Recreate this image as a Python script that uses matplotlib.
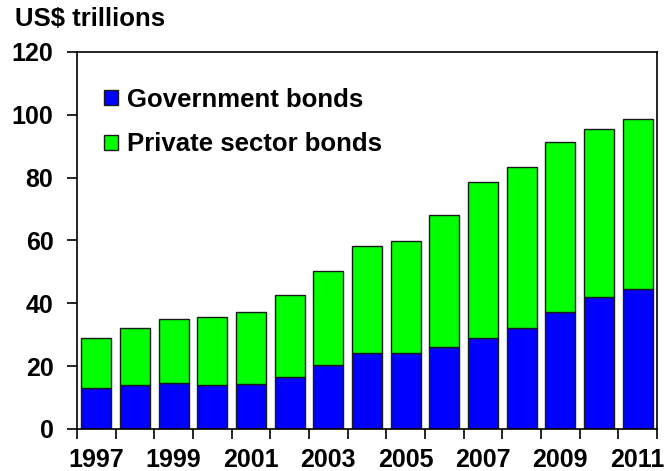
import matplotlib.pyplot as plt
import numpy as np

years = list(range(1997, 2012))
government = [13.1, 14.0, 14.6, 14.0, 14.2, 16.7, 20.3, 24.2, 24.1, 26.2, 29.1, 32.1, 37.2, 42.1, 44.6]
total = [28.9, 32.3, 34.9, 35.7, 37.3, 42.6, 50.3, 58.1, 59.7, 68.2, 78.6, 83.3, 91.2, 95.4, 98.8]
private = [t - g for t, g in zip(total, government)]

plt.rcParams['font.family'] = ['Liberation Sans', 'DejaVu Sans']
plt.rcParams['font.weight'] = 'bold'

fig = plt.figure(figsize=(6.72, 4.71), dpi=100)
ax = fig.add_axes([0.1146, 0.0892, 0.8631, 0.8004])

x = np.arange(len(years))
ax.bar(x, government, width=0.78, color='#0000ff', edgecolor='#1a1a1a', linewidth=1.0,
       label='Government bonds')
ax.bar(x, private, width=0.78, bottom=government, color='#00ff00', edgecolor='#1a1a1a',
       linewidth=1.0, label='Private sector bonds')

ax.set_xlim(-0.5, len(years) - 0.5)
ax.set_ylim(0, 120)
ax.set_yticks(range(0, 121, 20))
ax.tick_params(axis='y', labelsize=18, length=7, width=1.2, direction='out', pad=10)

# year labels under every other bar, ticks between bars
ax.set_xticks(x[::2])
ax.set_xticklabels([str(y) for y in years[::2]], fontsize=18)
ax.set_xticks(np.arange(-0.5, len(years)), minor=True)
ax.tick_params(axis='x', which='major', length=0, pad=14)
ax.tick_params(axis='x', which='minor', length=7, width=1.2, direction='out')

for s in ax.spines.values():
    s.set_linewidth(1.2)

ax.legend(loc='upper left', bbox_to_anchor=(0.046, 0.905), borderaxespad=0, borderpad=0,
          frameon=False, fontsize=18.5, handlelength=0.55, handleheight=0.55,
          handletextpad=0.35, labelspacing=0.8)

fig.text(0.022, 0.985, 'US$ trillions', fontsize=18.5, fontweight='bold', va='top')

fig.savefig('out.png', dpi=100)
